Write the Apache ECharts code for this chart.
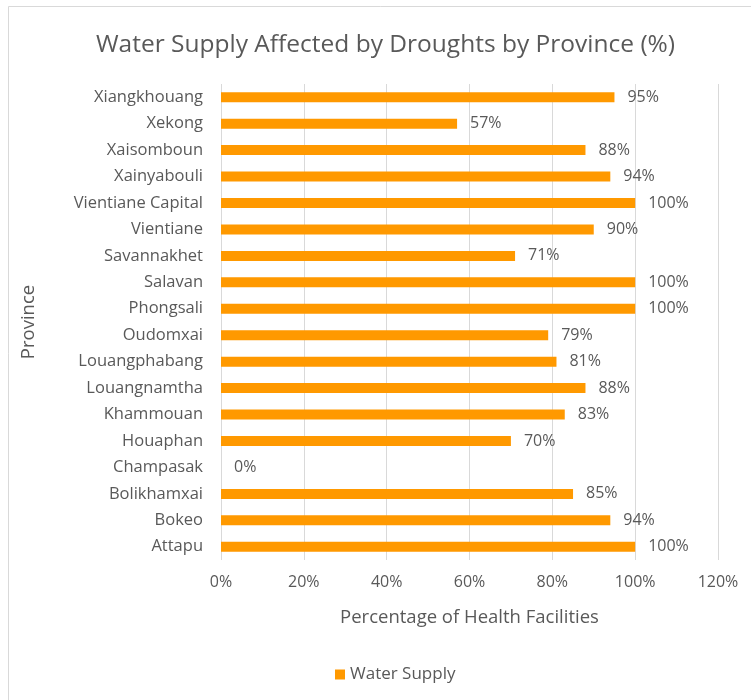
<!DOCTYPE html>
<html>
<head>
<meta charset="utf-8">
<script src="https://cdn.jsdelivr.net/npm/echarts@6/dist/echarts.min.js"></script>
<style>
html,body{margin:0;padding:0;background:#fff;}
#chart{width:751px;height:700px;}
</style>
</head>
<body>
<div id="chart"></div>
<script>
const provinces = ["Attapu","Bokeo","Bolikhamxai","Champasak","Houaphan","Khammouan","Louangnamtha","Louangphabang","Oudomxai","Phongsali","Salavan","Savannakhet","Vientiane","Vientiane Capital","Xainyabouli","Xaisomboun","Xekong","Xiangkhouang"];
const waterSupply = [100,94,85,0,70,83,88,81,79,100,100,71,90,100,94,88,57,95];
const xTicks = {min:0, max:120, interval:20};

const FONT = "Open Sans";
const TXT = "#595959";
const chart = echarts.init(document.getElementById('chart'));
chart.setOption({
  backgroundColor:'#fff',
  textStyle:{fontFamily:FONT},
  graphic:[{type:'rect', shape:{x:8.5,y:6.5,width:760,height:720}, style:{fill:'none', stroke:'#d9d9d9', lineWidth:1}, silent:true, z:-1}],
  title:{text:'Water Supply Affected by Droughts by Province (%)', left:91, top:28, textStyle:{fontFamily:FONT, fontSize:24.5, fontWeight:'normal', color:TXT}},
  grid:{left:221, right:33, top:84, bottom:140, containLabel:false},
  legend:{bottom:12, left:330, itemWidth:10, itemHeight:10, itemGap:6, icon:'rect', textStyle:{fontFamily:FONT, fontSize:17, color:TXT}, data:['Water Supply']},
  xAxis:{type:'value', min:xTicks.min, max:xTicks.max, interval:xTicks.interval,
    name:'Percentage of Health Facilities', nameLocation:'middle', nameGap:48,
    nameTextStyle:{fontFamily:FONT, fontSize:18.5, color:TXT},
    axisLine:{show:false}, axisTick:{show:false},
    axisLabel:{formatter:'{value}%', fontFamily:FONT, fontSize:16, color:TXT, margin:14},
    splitLine:{show:true, lineStyle:{color:'#d9d9d9', width:1}}},
  yAxis:{type:'category', data:provinces,
    name:'Province', nameLocation:'middle', nameGap:183, nameRotate:90,
    nameTextStyle:{fontFamily:FONT, fontSize:18.5, color:TXT},
    axisLine:{show:false}, axisTick:{show:false},
    axisLabel:{fontFamily:FONT, fontSize:16.5, color:TXT, margin:18}},
  series:[{name:'Water Supply', type:'bar', data:waterSupply, barWidth:10,
    itemStyle:{color:'#FF9900'},
    label:{show:true, position:'right', distance:13, formatter:'{c}%', fontFamily:FONT, fontSize:16, color:TXT}}]
});
</script>
</body>
</html>
